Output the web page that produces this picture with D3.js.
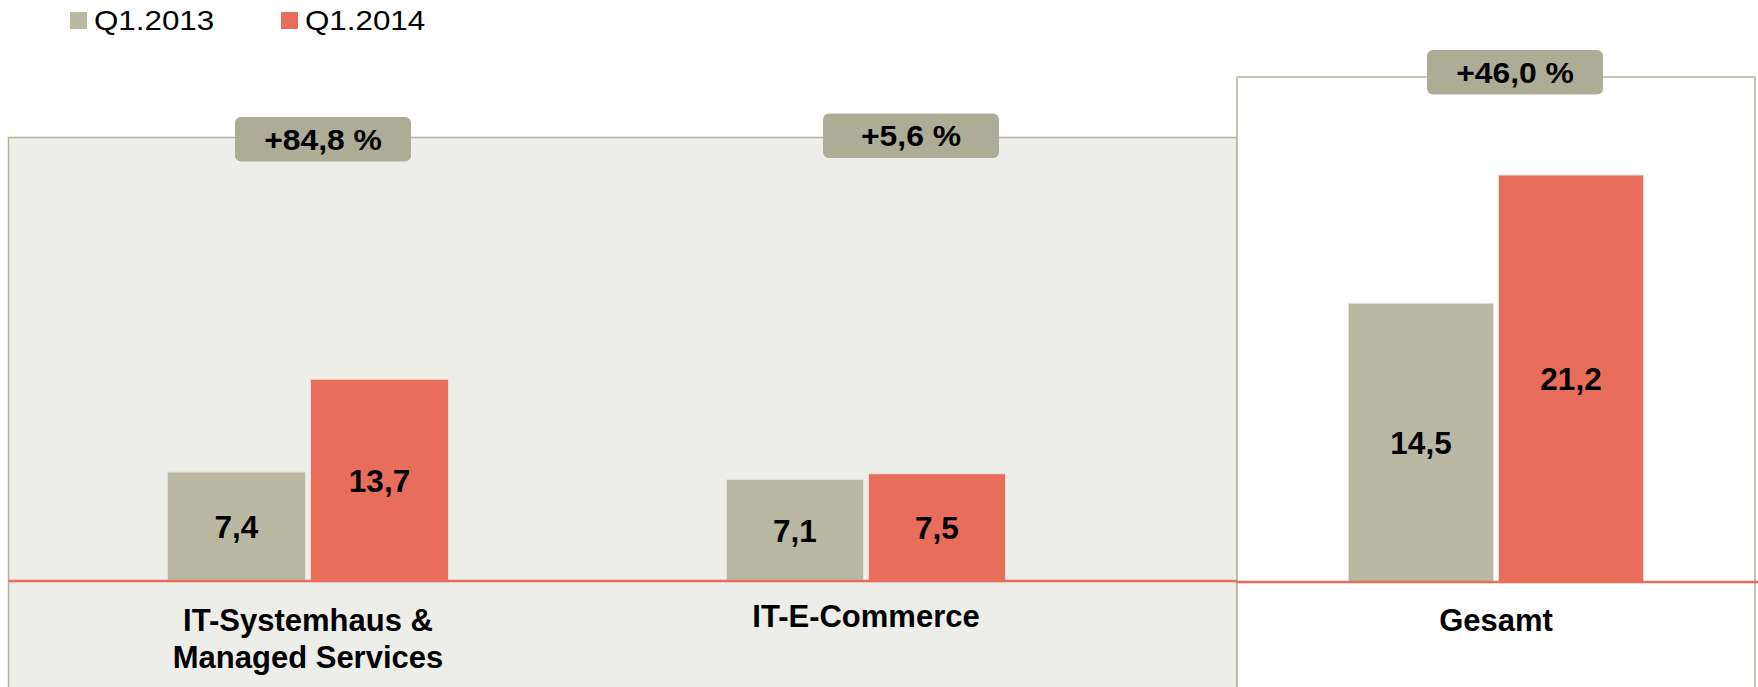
<!DOCTYPE html>
<html>
<head>
<meta charset="utf-8">
<script src="https://cdn.jsdelivr.net/npm/d3@7"></script>
<style>
  body { margin: 0; background: #fff; }
  text { font-family: "Liberation Sans", Arial, sans-serif; }
</style>
</head>
<body>
<div id="chart"></div>
<script>
var width = 1758;
var height = 687;

// data
var categories = ["IT-Systemhaus & Managed Services", "IT-E-Commerce", "Gesamt"];
var categoryLines = [["IT-Systemhaus &", "Managed Services"], ["IT-E-Commerce"], ["Gesamt"]];
var series = ["Q1.2013", "Q1.2014"];
var values2013 = [7.4, 7.1, 14.5];
var values2014 = [13.7, 7.5, 21.2];
var growth = ["+84,8 %", "+5,6 %", "+46,0 %"];

var colors = { "Q1.2013": "#B9B8A2", "Q1.2014": "#E96D5B" };
var pillColor = "#ADAC97";
var borderColor = "#B3B29D";
var fmt = function(v) { return d3.format(".1f")(v).replace(".", ","); };

var svg = d3.select("#chart").append("svg")
    .attr("width", width)
    .attr("height", height);

var baseY = 581;

// each panel was its own little chart, so each group gets its own y scale
var pxPerUnit = [14.73, 14.3, 19.15];
var yScales = pxPerUnit.map(function(k) {
  return d3.scaleLinear().domain([0, 25]).range([baseY, baseY - 25 * k]);
});

var xCenter = d3.scaleOrdinal().domain(categories).range([308, 866, 1496]);
var barWidth = [138, 137, 145];
var barGap = 5;
var pillOffset = [15, 45, 19];
var pillTop = [117, 113.5, 50];

// panels
svg.append("rect")
  .attr("x", 8.5).attr("y", 137.5)
  .attr("width", 1228.5).attr("height", 600)
  .attr("fill", "#EDEDE9")
  .attr("stroke", borderColor).attr("stroke-width", 1.5);

svg.append("rect")
  .attr("x", 1237).attr("y", 77)
  .attr("width", 518).attr("height", 660)
  .attr("fill", "#fff")
  .attr("stroke", borderColor).attr("stroke-width", 1.5);

// bars
categories.forEach(function(cat, i) {
  var bw = barWidth[i];
  var x1 = d3.scaleBand().domain(series)
    .range([xCenter(cat) - bw - barGap / 2, xCenter(cat) + bw + barGap / 2])
    .paddingInner(barGap / (bw + barGap));
  var y = yScales[i];
  var vals = [values2013[i], values2014[i]];
  var g = svg.append("g");

  g.selectAll("rect")
    .data(series)
    .enter()
    .append("rect")
    .attr("x", function(s) { return x1(s); })
    .attr("y", function(s, j) { return y(vals[j]); })
    .attr("width", x1.bandwidth())
    .attr("height", function(s, j) { return y(0) - y(vals[j]) + 1.5; })
    .attr("fill", function(s) { return colors[s]; })
    .attr("stroke", "#E4E2D8")
    .attr("stroke-width", 1);

  g.selectAll("text")
    .data(series)
    .enter()
    .append("text")
    .attr("x", function(s) { return x1(s) + x1.bandwidth() / 2; })
    .attr("y", function(s, j) { return (y(vals[j]) + y(0)) / 2 + 11.5; })
    .attr("text-anchor", "middle")
    .attr("font-size", 31.5)
    .attr("font-weight", "bold")
    .attr("fill", "#000")
    .text(function(s, j) { return fmt(vals[j]); });

  // category label
  var lab = svg.append("text")
    .attr("text-anchor", "middle")
    .attr("font-size", 31)
    .attr("font-weight", "bold")
    .attr("fill", "#000");
  categoryLines[i].forEach(function(line, k) {
    lab.append("tspan")
      .attr("x", xCenter(cat))
      .attr("y", (i == 1 ? 627 : 631) + k * 37)
      .text(line);
  });

  // growth pill
  var pw = 176, ph = 44.5;
  var px = xCenter(cat) + pillOffset[i];
  svg.append("rect")
    .attr("x", px - pw / 2).attr("y", pillTop[i])
    .attr("width", pw).attr("height", ph)
    .attr("rx", 6).attr("ry", 6)
    .attr("fill", pillColor);
  svg.append("text")
    .attr("transform", "translate(" + px + "," + (pillTop[i] + ph / 2 + 10.5) + ") scale(1.08,1)")
    .attr("text-anchor", "middle")
    .attr("font-size", 29.5)
    .attr("font-weight", "bold")
    .attr("fill", "#000")
    .text(growth[i]);
});

// zero lines
svg.append("line")
  .attr("x1", 8.5).attr("x2", 1237)
  .attr("y1", baseY).attr("y2", baseY)
  .attr("stroke", "#E96D5B").attr("stroke-width", 2.5);
svg.append("line")
  .attr("x1", 1237).attr("x2", width)
  .attr("y1", baseY + 1).attr("y2", baseY + 1)
  .attr("stroke", "#E96D5B").attr("stroke-width", 2.5);

// legend
var legendX = [70, 281];
var legend = svg.selectAll(".legend")
  .data(series)
  .enter()
  .append("g")
  .attr("class", "legend")
  .attr("transform", function(s, i) { return "translate(" + legendX[i] + ",12)"; });
legend.append("rect")
  .attr("width", 17).attr("height", 17)
  .attr("fill", function(s) { return colors[s]; });
legend.append("text")
  .attr("transform", "translate(24,17.5) scale(1.14,1)")
  .attr("font-size", 27.5)
  .attr("fill", "#000")
  .text(function(s) { return s; });
</script>
</body>
</html>
